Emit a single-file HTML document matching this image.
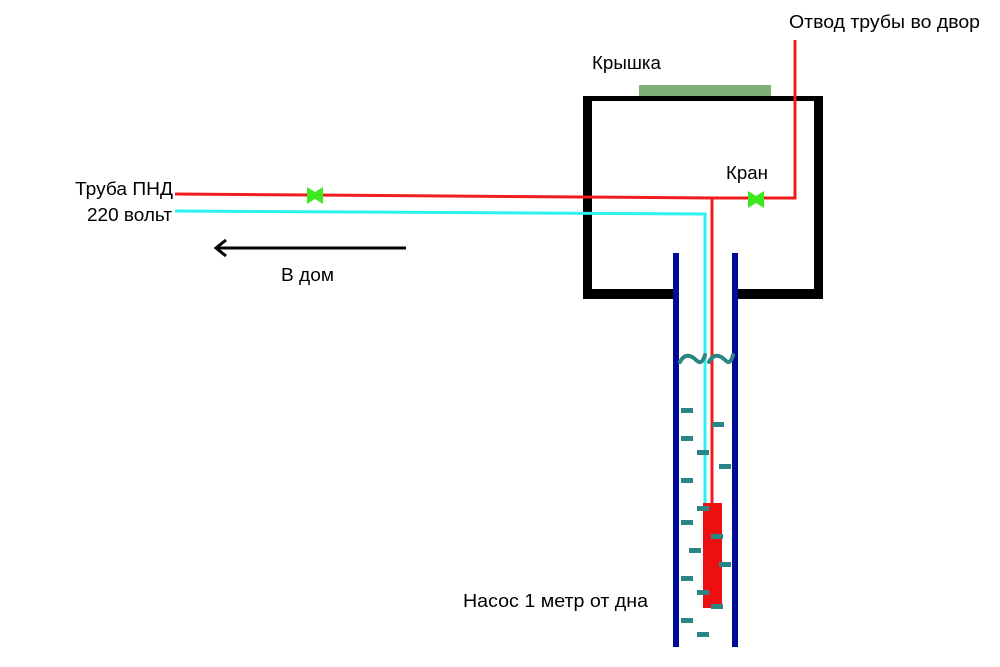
<!DOCTYPE html>
<html><head><meta charset="utf-8"><style>
body{margin:0;background:#fff;}
svg{display:block}
text{font-family:"Liberation Sans",sans-serif;font-size:18px;fill:#000}
</style></head><body>
<svg width="1000" height="667" viewBox="0 0 1000 667" xmlns="http://www.w3.org/2000/svg">
<rect x="639" y="85" width="132" height="15" fill="#80b078"/>
<rect x="583" y="96" width="240" height="5" fill="#000"/>
<rect x="583" y="96" width="9" height="203" fill="#000"/>
<rect x="814" y="96" width="9" height="203" fill="#000"/>
<rect x="583" y="289" width="96" height="10" fill="#000"/>
<rect x="732" y="289" width="91" height="10" fill="#000"/>
<rect x="673" y="253" width="6" height="394" fill="#000c96"/>
<rect x="732" y="253" width="6" height="394" fill="#000c96"/>
<polyline points="175,211 705,214 705,503" fill="none" stroke="#2ef0ee" stroke-width="3"/>
<polyline points="175,194 712,198 712,503" fill="none" stroke="#ee1c1c" stroke-width="3"/>
<polyline points="712,198 795,198 795,40" fill="none" stroke="#ee1c1c" stroke-width="3"/>
<rect x="703" y="503" width="19" height="105" fill="#ee1010"/>
<polygon points="307,187 315,192 323,187 323,204 315,199 307,204" fill="#3ee81e"/>
<polygon points="748,191 756,196 764,191 764,208 756,203 748,208" fill="#3ee81e"/>
<g fill="none" stroke="#2a8585" stroke-width="4" stroke-linecap="round">
<path d="M680,362 C685,352 692,356 696,360 S703,362 705,355"/>
<path d="M709,362 C714,352 721,356 725,360 S731,362 733,355"/>
</g>
<g fill="#2a8585">
<rect x="681" y="408" width="12" height="5"/><rect x="712" y="422" width="12" height="5"/>
<rect x="681" y="436" width="12" height="5"/><rect x="697" y="450" width="12" height="5"/>
<rect x="719" y="464" width="12" height="5"/><rect x="681" y="478" width="12" height="5"/>
<rect x="697" y="506" width="12" height="5"/><rect x="681" y="520" width="12" height="5"/>
<rect x="711" y="534" width="12" height="5"/><rect x="689" y="548" width="12" height="5"/>
<rect x="719" y="562" width="12" height="5"/><rect x="681" y="576" width="12" height="5"/>
<rect x="697" y="590" width="12" height="5"/><rect x="711" y="604" width="12" height="5"/>
<rect x="681" y="618" width="12" height="5"/><rect x="697" y="632" width="12" height="5"/>
</g>
<line x1="216" y1="248" x2="406" y2="248" stroke="#000" stroke-width="3"/>
<polyline points="226,240 216,248 226,256" fill="none" stroke="#000" stroke-width="3"/>
<text x="75" y="195" textLength="98" lengthAdjust="spacingAndGlyphs">Труба ПНД</text>
<text x="87" y="221" textLength="85" lengthAdjust="spacingAndGlyphs">220 вольт</text>
<text x="281" y="281" textLength="53" lengthAdjust="spacingAndGlyphs">В дом</text>
<text x="592" y="69" textLength="69" lengthAdjust="spacingAndGlyphs">Крышка</text>
<text x="726" y="179" textLength="42" lengthAdjust="spacingAndGlyphs">Кран</text>
<text x="789" y="28" textLength="191" lengthAdjust="spacingAndGlyphs">Отвод трубы во двор</text>
<text x="463" y="607" textLength="185" lengthAdjust="spacingAndGlyphs">Насос 1 метр от дна</text>
</svg>
</body></html>
